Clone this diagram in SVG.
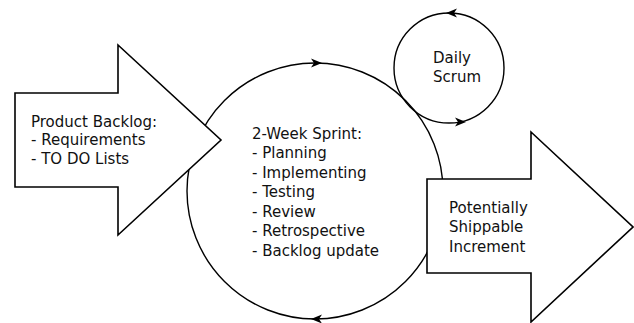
<svg xmlns="http://www.w3.org/2000/svg" width="634" height="323" viewBox="0 0 634 323">
<style>
.bg{fill:#ffffff}
.loop{fill:none;stroke:#000;stroke-width:1.4}
.arrow{fill:#ffffff;stroke:#000;stroke-width:1.6;stroke-linejoin:miter}
.t{font-family:"DejaVu Sans",sans-serif;font-size:15px;fill:#111}
.head{fill:#000}
</style>
<defs>
<path id="ah" d="M0,0 L-11,-4.5 L-8,0 L-11,4.5 Z"/>
</defs>
<rect class="bg" x="0" y="0" width="634" height="323"/>
<g id="sprint">
<circle class="loop" cx="315" cy="191" r="128"/>
<text class="t" x="252" y="138.5">2-Week Sprint:</text>
<text class="t" x="252" y="158">- Planning</text>
<text class="t" x="252" y="177.5">- Implementing</text>
<text class="t" x="252" y="197">- Testing</text>
<text class="t" x="252" y="216.5">- Review</text>
<text class="t" x="252" y="236">- Retrospective</text>
<text class="t" x="252" y="255.5">- Backlog update</text>
</g>
<g id="daily-scrum">
<circle class="loop" cx="449" cy="68" r="55"/>
<text class="t" x="433" y="63">Daily</text>
<text class="t" x="433" y="82">Scrum</text>
</g>
<g id="product-backlog">
<path class="arrow" d="M15,93 H118 V45 L221,140 L118,235 V187 H15 Z"/>
<text class="t" x="31" y="126.5">Product Backlog:</text>
<text class="t" x="31" y="145">- Requirements</text>
<text class="t" x="31" y="163.5">- TO DO Lists</text>
</g>
<g id="increment">
<path class="arrow" d="M427,179 H531 V132 L633,227 L531,322 V273 H427 Z"/>
<text class="t" x="449" y="213">Potentially</text>
<text class="t" x="449" y="232">Shippable</text>
<text class="t" x="449" y="251.5">Increment</text>
</g>
<g id="connectors" class="head">
<use href="#ah" transform="translate(322,63)"/>
<use href="#ah" transform="translate(311,319) rotate(180)"/>
<use href="#ah" transform="translate(446,13) rotate(180)"/>
<use href="#ah" transform="translate(466,122)"/>
</g>
</svg>
